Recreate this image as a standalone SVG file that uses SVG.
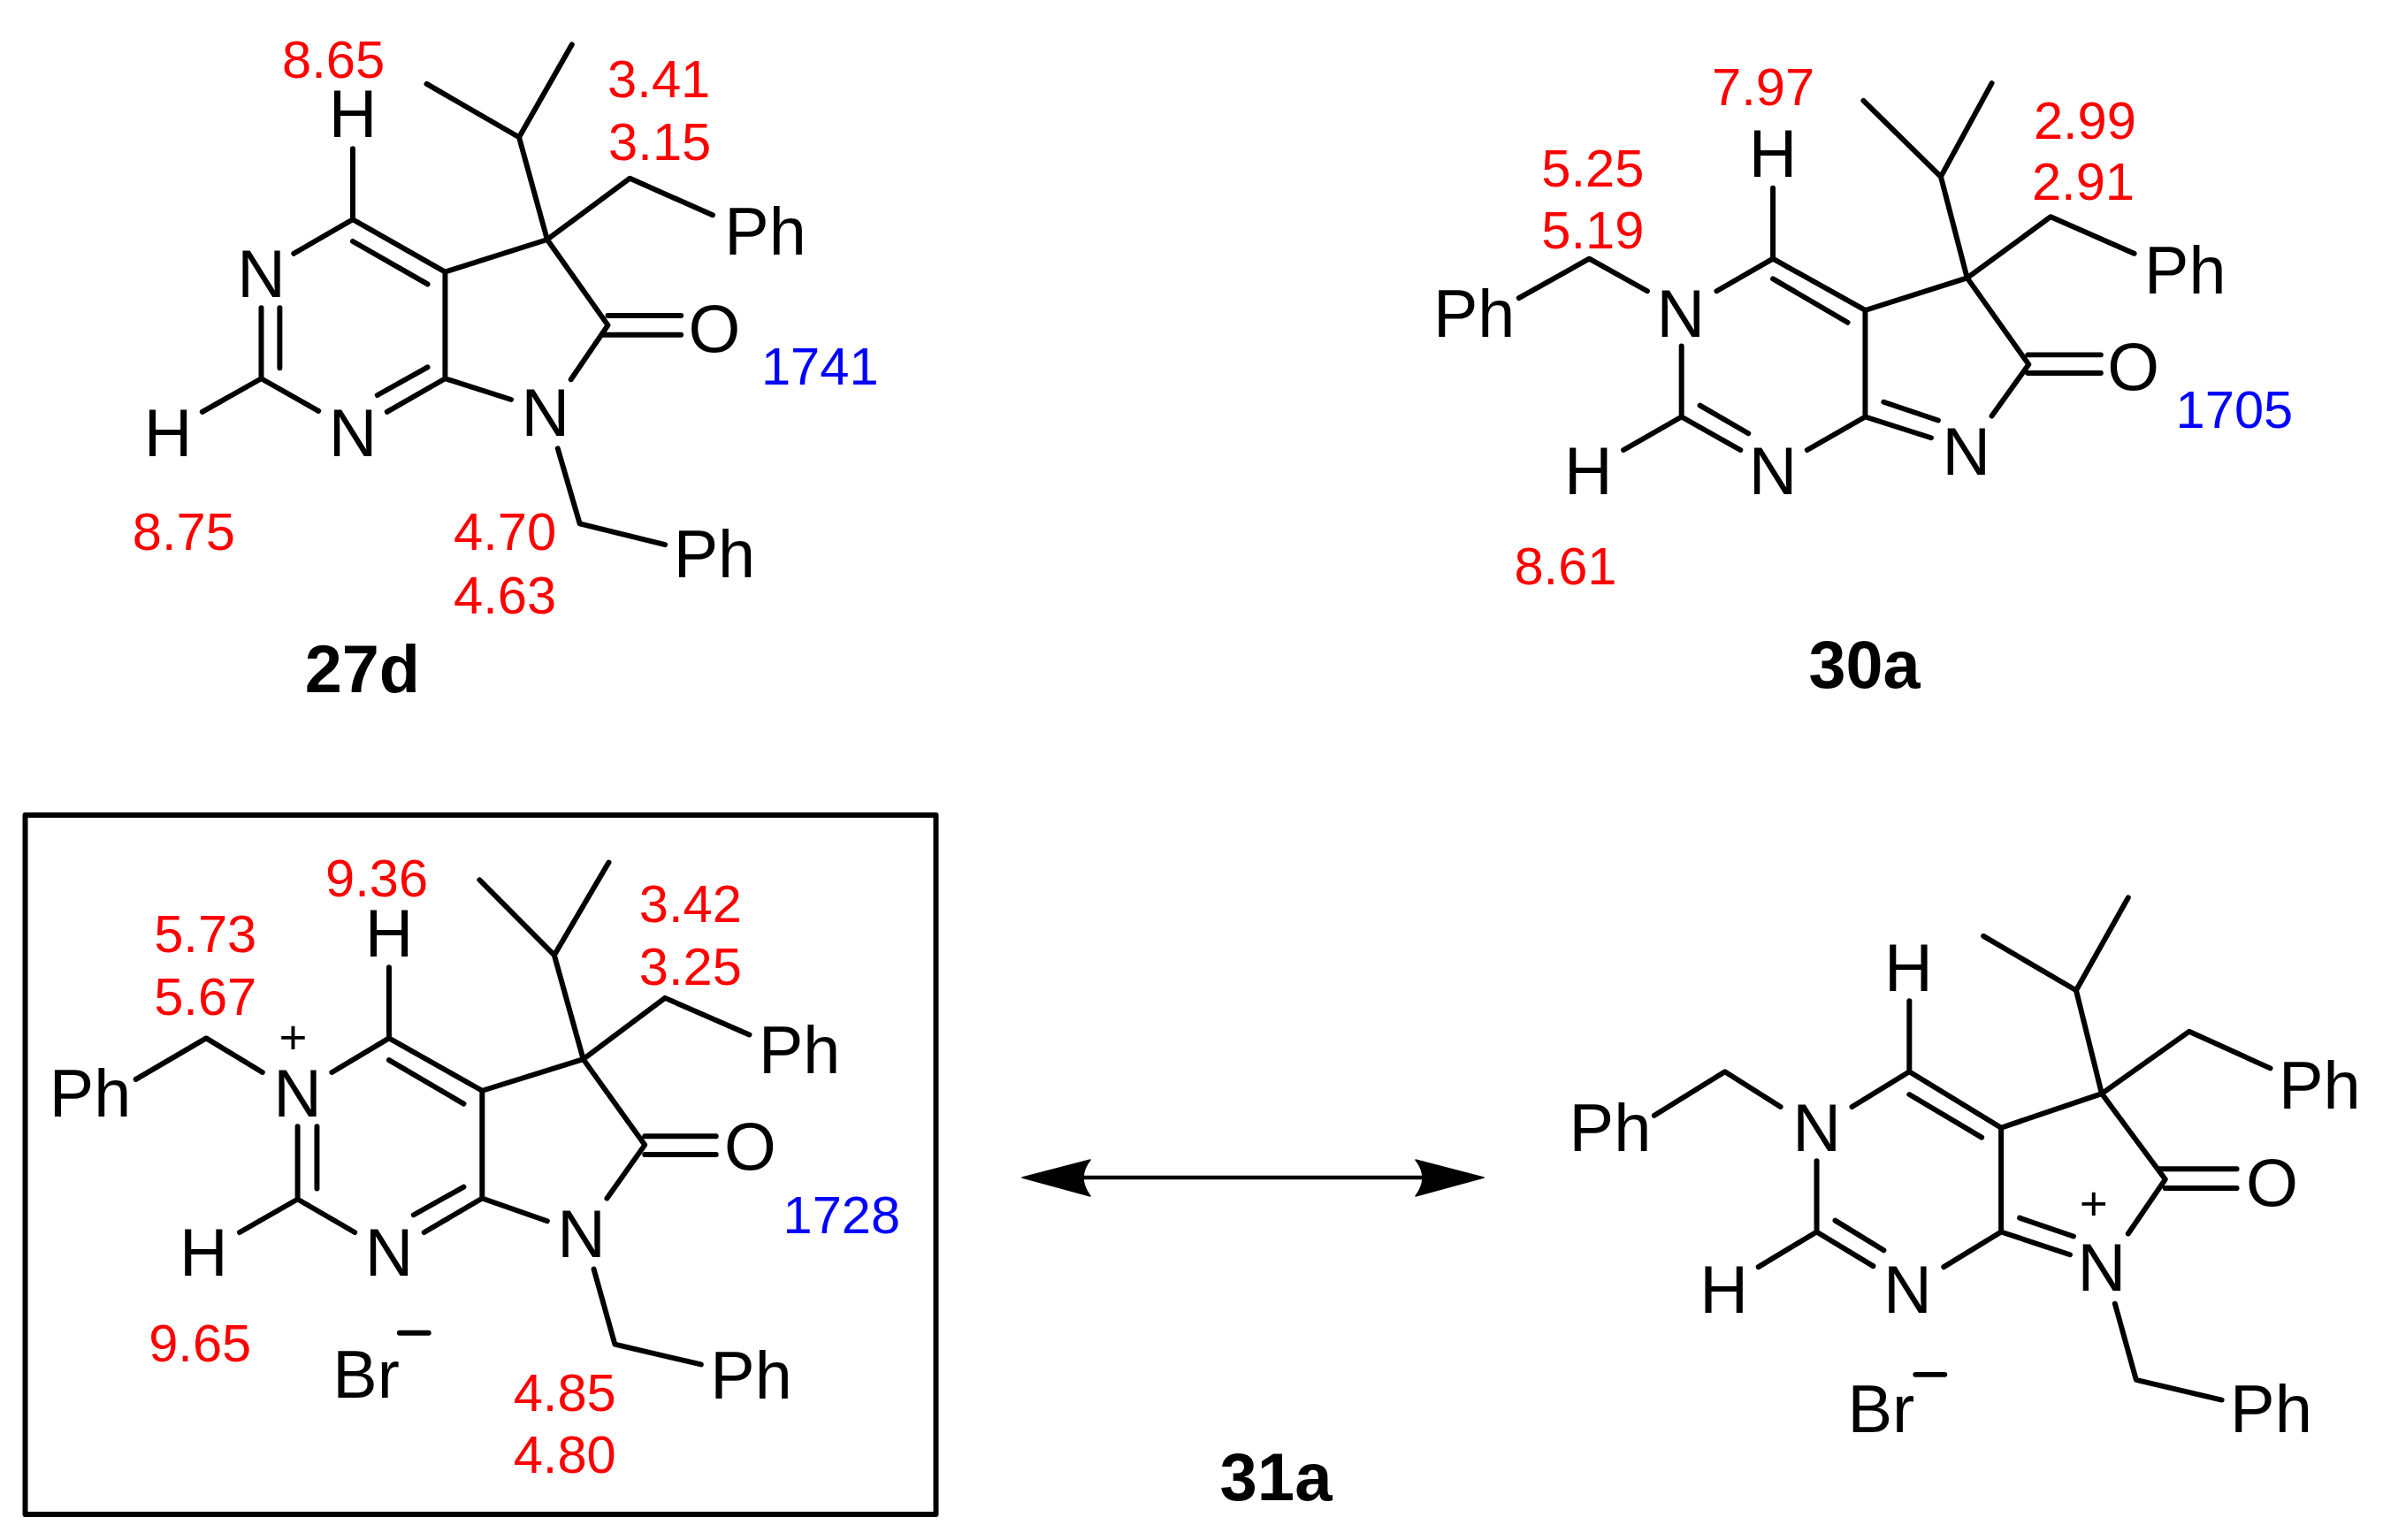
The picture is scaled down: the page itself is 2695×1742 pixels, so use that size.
<svg xmlns="http://www.w3.org/2000/svg" width="2695" height="1742" viewBox="0 0 2695 1742">
<style>
.b{fill:none;stroke:#000;stroke-width:6;stroke-linecap:round;stroke-linejoin:round}
text{font-family:"Liberation Sans",Arial,sans-serif;text-anchor:middle}
.a{font-size:76px;fill:#000}
.r{font-size:60px;fill:#f00}
.u{font-size:60px;fill:#00f}
.t{font-size:76px;font-weight:bold;fill:#000}
.c{font-size:55px;fill:#000}
</style>
<rect width="2695" height="1742" fill="#fff"/>
<g id="mol-27d" transform="matrix(.995 0 0 .989 .95 -1)">
<path class="b" d="M484 97L589 158L649 52M589 158L621 275L715 205L809 247M621 275L505 312L400 252L333 291M400 252V171M400 277L485 326M505 312V434M296 353V434L229 472M317 353V422M296 434L361 471M439 472L505 434L580 458M428 453L485 421M621 275L690 373L648 435M690 362H773M685 384H773M633 514L658 600L755 624"/>
<text class="a" x="296" y="341">N</text><text class="a" x="400" y="158">H</text><text class="a" x="400" y="523">N</text><text class="a" x="190" y="523">H</text><text class="a" x="619" y="499">N</text><text class="a" x="811" y="403">O</text><text class="a" x="869" y="292">Ph</text><text class="a" x="811" y="661">Ph</text>
<text class="r" x="378" y="90">8.65</text><text class="r" x="748" y="112">3.41</text><text class="r" x="749" y="184">3.15</text><text class="u" x="931" y="441">1741</text><text class="r" x="208" y="630">8.75</text><text class="r" x="573" y="630">4.70</text><text class="r" x="573" y="703">4.63</text>
<text class="t" x="411" y="793">27d</text>
</g>
<g id="mol-30a" transform="matrix(.994 0 0 .988 10.1 1.2)">
<path class="b" d="M2110 114L2198 201L2256 94M2198 201L2228 317L2323 247L2418 289M2228 317L2112 354L2007 295L1943 332M2007 295V214M2007 318L2092 368M2112 354V476M1903 395V476L1837 514M1903 476L1970 514M1924 463L1979 495M2046 514L2112 476L2187 500M2133 459L2195 480M2228 317L2298 416L2256 475M2297 405H2380M2297 426H2380M1864 332L1798 295L1718 340"/>
<text class="a" x="1902" y="384">N</text><text class="a" x="2007" y="201">H</text><text class="a" x="2007" y="565">N</text><text class="a" x="1797" y="565">H</text><text class="a" x="2227" y="542">N</text><text class="a" x="2417" y="445">O</text><text class="a" x="2476" y="335">Ph</text><text class="a" x="1667" y="384">Ph</text>
<text class="r" x="1996" y="119">7.97</text><text class="r" x="1802" y="212">5.25</text><text class="r" x="1802" y="283">5.19</text><text class="r" x="2362" y="158">2.99</text><text class="r" x="2360" y="228">2.91</text><text class="u" x="2532" y="489">1705</text><text class="r" x="1771" y="668">8.61</text>
<text class="t" x="2111" y="786">30a</text>
</g>
<g id="mol-31a-box">
<rect class="b" x="28.5" y="922" width="1030" height="791"/>
<g transform="matrix(.994 0 0 .9895 .6 8.75)">
<path class="b" d="M545 997L630 1083L692 977M630 1083L663 1202L756 1132L852 1174M663 1202L548 1238L442 1178L377 1217M442 1178V1097M442 1203L527 1253M548 1238V1361M338 1279V1362L272 1400M360 1279V1350M338 1362L403 1400M482 1400L548 1361L622 1387M470 1380L527 1348M663 1202L733 1300L690 1361M733 1290H814M733 1311H814M675 1442L699 1528L797 1551M298 1217L234 1178L154 1225M454 1515H487"/>
<text class="a" x="338" y="1268">N</text><text class="c" x="333" y="1196">+</text><text class="a" x="442" y="1085">H</text><text class="a" x="442" y="1449">N</text><text class="a" x="231" y="1449">H</text><text class="a" x="661" y="1428">N</text><text class="a" x="853" y="1328">O</text><text class="a" x="909" y="1218">Ph</text><text class="a" x="854" y="1590">Ph</text><text class="a" x="102" y="1268">Ph</text><text class="a" x="416" y="1589">Br</text>
<text class="r" x="428" y="1016">9.36</text><text class="r" x="233" y="1080">5.73</text><text class="r" x="233" y="1151">5.67</text><text class="r" x="785" y="1045">3.42</text><text class="r" x="785" y="1117">3.25</text><text class="u" x="957" y="1401">1728</text><text class="r" x="227" y="1548">9.65</text><text class="r" x="642" y="1604">4.85</text><text class="r" x="642" y="1675">4.80</text>
</g>
</g>
<g id="connectors">
<path d="M1225 1332H1610" fill="none" stroke="#000" stroke-width="4.5"/>
<path d="M1156 1332L1233 1312Q1217 1332 1233 1353Z" stroke="#000" stroke-width="1.5" stroke-linejoin="round"/>
<path d="M1678 1332L1601 1312Q1617 1332 1601 1353Z" stroke="#000" stroke-width="1.5" stroke-linejoin="round"/>
</g>
<text id="label-31a" class="t" x="1443" y="1697">31a</text>
<g id="mol-31a-res" transform="matrix(.998 0 0 .99 .65 7.5)">
<path class="b" d="M2247 1062L2352 1124L2411 1018M2352 1124L2381 1242L2480 1171L2572 1213M2381 1242L2267 1281L2163 1217L2098 1257M2163 1217V1136M2163 1243L2245 1292M2267 1281V1400M2058 1319V1400L1992 1440M2058 1400L2122 1439M2079 1387L2134 1421M2202 1440L2267 1400L2345 1426M2288 1384L2349 1405M2381 1242L2453 1340L2411 1402M2446 1328H2534M2453 1350H2534M2396 1482L2420 1569L2517 1592M2017 1257L1954 1217L1874 1267M2170 1563H2203"/>
<text class="a" x="2058" y="1308">N</text><text class="c" x="2372" y="1386">+</text><text class="a" x="2162" y="1125">H</text><text class="a" x="2161" y="1492">N</text><text class="a" x="1953" y="1492">H</text><text class="a" x="2381" y="1467">N</text><text class="a" x="2574" y="1370">O</text><text class="a" x="2628" y="1259">Ph</text><text class="a" x="2573" y="1629">Ph</text><text class="a" x="1824" y="1308">Ph</text><text class="a" x="2131" y="1629">Br</text>
</g>
</svg>
